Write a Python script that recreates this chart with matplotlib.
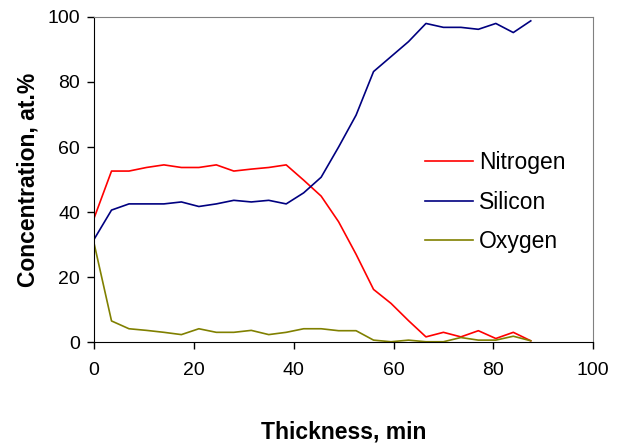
import matplotlib.pyplot as plt

plt.rcParams['font.family'] = ['Liberation Sans', 'DejaVu Sans']

# depth profile, sputter time (min) vs concentration (at.%)
thickness = [0, 3.5, 7, 10.5, 14, 17.5, 21, 24.5, 28, 31.5, 35, 38.5, 42, 45.5,
             49, 52.5, 56, 59.5, 63, 66.5, 70, 73.5, 77, 80.5, 84, 87.5]
nitrogen = [38.1, 52.6, 52.6, 53.7, 54.5, 53.7, 53.7, 54.5, 52.6, 53.2, 53.7, 54.5, 49.8, 44.9,
            37.0, 27.0, 16.2, 11.9, 6.6, 1.6, 3.0, 1.6, 3.5, 1.1, 3.0, 0.4]
silicon = [31.6, 40.6, 42.5, 42.5, 42.5, 43.1, 41.7, 42.5, 43.6, 43.1, 43.6, 42.5, 45.9, 50.7,
           60.0, 69.8, 83.2, 87.8, 92.4, 98.0, 96.8, 96.8, 96.2, 98.0, 95.2, 98.8]
oxygen = [30.4, 6.5, 4.1, 3.6, 3.0, 2.3, 4.1, 3.0, 3.0, 3.6, 2.3, 3.0, 4.1, 4.1,
          3.5, 3.5, 0.6, 0.1, 0.6, 0.1, 0.1, 1.4, 0.6, 0.6, 1.8, 0.4]

fig = plt.figure(figsize=(6.27, 4.46), dpi=100)
ax = fig.add_axes([0.150, 0.233, 0.796, 0.729])

ax.plot(thickness, nitrogen, color='#FF0000', lw=1.2, label='Nitrogen')
ax.plot(thickness, silicon, color='#000080', lw=1.2, label='Silicon')
ax.plot(thickness, oxygen, color='#808000', lw=1.2, label='Oxygen')

ax.set_xlim(0, 100)
ax.set_ylim(0, 100)
ax.set_xticks(range(0, 101, 20))
ax.set_yticks(range(0, 101, 20))
ax.tick_params(direction='out', length=5, width=1, labelsize=14, pad=5)
ax.tick_params(axis='x', pad=9)

for s in ['top', 'right']:
    ax.spines[s].set_color('#808080')
for s in ['left', 'bottom']:
    ax.spines[s].set_color('black')

ax.set_xlabel('Thickness, min', fontsize=16.5, fontweight='bold', labelpad=30)
ax.set_ylabel('Concentration, at.%', fontsize=16.5, fontweight='bold', labelpad=6)

ax.legend(loc='center left', bbox_to_anchor=(0.622, 0.43), frameon=False,
          fontsize=16.5, handlelength=2.1, labelspacing=0.72, handletextpad=0.26)

fig.savefig('out.png', dpi=100)
